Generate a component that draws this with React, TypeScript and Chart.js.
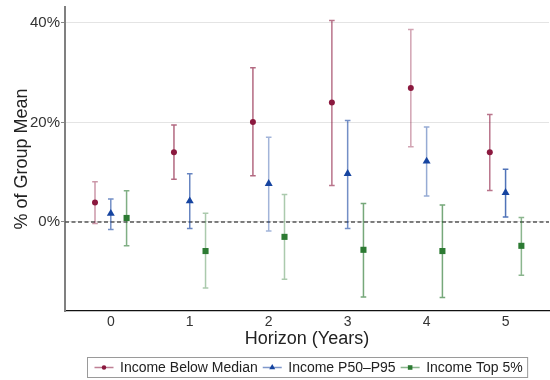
import React, { useEffect, useRef } from "react";
import { Chart, registerables } from "chart.js";

Chart.register(...registerables);

// ---------- data ----------
const horizons = [0, 1, 2, 3, 4, 5];
const seriesNames = ["Income Below Median", "Income P50\u2013P95", "Income Top 5%"];

const belowMedian = [3.9, 14.0, 20.1, 24.0, 26.9, 14.0];
const belowMedianLo = [-0.3, 8.6, 9.3, 7.3, 15.1, 6.3];
const belowMedianHi = [8.1, 19.5, 31.0, 40.5, 38.7, 21.6];

const p50p95 = [1.7, 4.2, 7.7, 9.7, 12.2, 5.9];
const p50p95Lo = [-1.5, -1.3, -1.8, -1.3, 5.2, 1.0];
const p50p95Hi = [4.6, 9.7, 17.0, 20.4, 19.1, 10.6];

const top5 = [0.8, -5.85, -3.0, -5.6, -5.85, -4.8];
const top5Lo = [-4.8, -13.3, -11.5, -15.1, -15.2, -10.7];
const top5Hi = [6.25, 1.75, 5.5, 3.7, 3.4, 0.9];

const yTickValues = [0, 20, 40];
const xTickValues = [0, 1, 2, 3, 4, 5];

// ---------- styles ----------
const FONT = "'Liberation Sans', Arial, Helvetica, sans-serif";
const dodge = [-0.2, 0, 0.2];
const markerRGB = [
  [139, 24, 62],
  [22, 68, 160],
  [44, 122, 50],
];
const markerStyles = ["circle", "triangle", "rect"];
const markerRadius = [3, 4.6, 4.3];
const barAlpha = [
  [0.45, 0.65, 0.65, 0.6, 0.4, 0.6],
  [0.6, 0.65, 0.4, 0.6, 0.45, 0.75],
  [0.6, 0.4, 0.4, 0.65, 0.65, 0.55],
];
const PLOT_RIGHT = 549;

const values = [belowMedian, p50p95, top5];
const lows = [belowMedianLo, p50p95Lo, top5Lo];
const highs = [belowMedianHi, p50p95Hi, top5Hi];

const rgba = (c: number[], a: number) => `rgba(${c[0]},${c[1]},${c[2]},${a})`;

function drawMarker(ctx: CanvasRenderingContext2D, style: string, x: number, y: number, r: number, color: string) {
  ctx.fillStyle = color;
  ctx.beginPath();
  if (style === "circle") {
    ctx.arc(x, y, r, 0, Math.PI * 2);
  } else if (style === "triangle") {
    const h = r * 1.5;
    const w = r * Math.sqrt(3);
    ctx.moveTo(x, y - r);
    ctx.lineTo(x + w / 2, y - r + h);
    ctx.lineTo(x - w / 2, y - r + h);
    ctx.closePath();
  } else {
    const s = r / Math.SQRT2;
    ctx.rect(x - s, y - s, 2 * s, 2 * s);
  }
  ctx.fill();
}

const areaFixPlugin = {
  id: "areaFix",
  afterLayout(chart: any) {
    const xs = chart.scales.x;
    chart.chartArea.right = PLOT_RIGHT;
    chart.chartArea.width = PLOT_RIGHT - chart.chartArea.left;
    xs.right = PLOT_RIGHT;
    xs.width = PLOT_RIGHT - xs.left;
    if (xs._margins) {
      xs._margins.right = 0;
    }
    xs.paddingRight = 0;
    xs.configure();
  },
};

const errorBarPlugin = {
  id: "errorBars",
  beforeDatasetsDraw(chart: any) {
    const { ctx, chartArea, scales } = chart;
    const xs = scales.x;
    const ys = scales.y;
    ctx.save();
    const y0 = ys.getPixelForValue(0);
    ctx.strokeStyle = "#555555";
    ctx.lineWidth = 1.5;
    ctx.setLineDash([4, 2.5]);
    ctx.beginPath();
    ctx.moveTo(chartArea.left, y0);
    ctx.lineTo(chartArea.right, y0);
    ctx.stroke();
    ctx.setLineDash([]);
    ctx.lineWidth = 1.5;
    values.forEach((_, si) => {
      horizons.forEach((h, i) => {
        const px = xs.getPixelForValue(h + dodge[si]);
        const pLo = ys.getPixelForValue(lows[si][i]);
        const pHi = ys.getPixelForValue(highs[si][i]);
        ctx.strokeStyle = rgba(markerRGB[si], barAlpha[si][i]);
        ctx.beginPath();
        ctx.moveTo(px, pLo);
        ctx.lineTo(px, pHi);
        ctx.moveTo(px - 2.8, pLo);
        ctx.lineTo(px + 2.8, pLo);
        ctx.moveTo(px - 2.8, pHi);
        ctx.lineTo(px + 2.8, pHi);
        ctx.stroke();
      });
    });
    ctx.restore();
  },
};

const legendPlugin = {
  id: "customLegend",
  afterDraw(chart: any) {
    const { ctx, chartArea } = chart;
    ctx.save();
    ctx.font = `14px ${FONT}`;
    const sampleW = 19;
    const gapAfterSample = 6.5;
    const gapBetween = 5;
    const padL = 7;
    const padR = 5;
    const widths = seriesNames.map((n) => ctx.measureText(n).width);
    const total =
      padL + padR + widths.reduce((a, w) => a + sampleW + gapAfterSample + w, 0) + gapBetween * (seriesNames.length - 1);
    const cx = (chartArea.left + chartArea.right) / 2;
    const left = Math.round(cx - total / 2) + 0.5;
    const top = 357.5;
    const h = 20;
    ctx.strokeStyle = "#9a9a9a";
    ctx.lineWidth = 1;
    ctx.strokeRect(left, top, total, h);
    let x = left + padL;
    const cy = top + h / 2;
    seriesNames.forEach((n, si) => {
      ctx.strokeStyle = rgba(markerRGB[si], 0.55);
      ctx.lineWidth = 1.5;
      ctx.beginPath();
      ctx.moveTo(x, cy);
      ctx.lineTo(x + sampleW, cy);
      ctx.stroke();
      drawMarker(ctx, markerStyles[si], x + sampleW / 2, cy, markerRadius[si] * 0.75, rgba(markerRGB[si], 1));
      x += sampleW + gapAfterSample;
      ctx.fillStyle = "#222222";
      ctx.textBaseline = "middle";
      ctx.textAlign = "left";
      ctx.fillText(n, x, cy + 0.5);
      x += widths[si] + gapBetween;
    });
    ctx.restore();
  },
};

export default function App() {
  const ref = useRef<HTMLCanvasElement | null>(null);

  useEffect(() => {
    document.body.style.margin = "0";
    if (!ref.current) return;
    const datasets = values.map((vals, si) => ({
      label: seriesNames[si],
      data: horizons.map((h, i) => ({ x: h + dodge[si], y: vals[i] })),
      pointStyle: markerStyles[si],
      pointRadius: markerRadius[si],
      pointBackgroundColor: rgba(markerRGB[si], 1),
      pointBorderWidth: 0,
      pointBorderColor: rgba(markerRGB[si], 1),
      showLine: false,
    }));

    const chart = new Chart(ref.current, {
      type: "scatter",
      data: { datasets },
      plugins: [areaFixPlugin, errorBarPlugin, legendPlugin],
      options: {
        responsive: false,
        animation: false,
        events: [],
        layout: { padding: { top: 7, right: 1, left: 0, bottom: 0 } },
        plugins: {
          legend: { display: false },
          tooltip: { enabled: false },
          title: { display: false },
        },
        scales: {
          x: {
            type: "linear",
            min: -0.58,
            max: 5.55,
            afterFit: (scale: any) => {
              scale.height = 69;
              scale.paddingLeft = 0;
              scale.paddingRight = 0;
            },
            afterBuildTicks: (scale: any) => {
              scale.ticks = xTickValues.map((v) => ({ value: v }));
            },
            grid: { color: "transparent", drawTicks: false, tickLength: 0 },
            border: { display: true, color: "#111111", width: 1.2 },
            ticks: {
              padding: 3,
              color: "#333333",
              font: { family: FONT, size: 14 },
              callback: (v: any) => String(v),
            },
            title: {
              display: true,
              text: "Horizon (Years)",
              color: "#222222",
              font: { family: FONT, size: 18 },
              padding: { top: 0, bottom: 30 },
            },
          },
          y: {
            min: -17.9,
            max: 43.2,
            afterFit: (scale: any) => {
              scale.width = 65;
              scale.paddingTop = 0;
              scale.paddingBottom = 0;
            },
            afterBuildTicks: (scale: any) => {
              scale.ticks = yTickValues.map((v) => ({ value: v }));
            },
            grid: { color: "#e4e4e4", lineWidth: 1, tickLength: 4, tickColor: "#888888", tickWidth: 1 },
            border: { display: true, color: "#808080", width: 2 },
            ticks: {
              padding: 1,
              color: "#333333",
              font: { family: FONT, size: 15 },
              callback: (v: any) => `${v}%`,
            },
            title: {
              display: true,
              text: "% of Group Mean",
              color: "#222222",
              font: { family: FONT, size: 18 },
              padding: { top: 11, bottom: 0 },
            },
          },
        },
      } as any,
    });
    return () => chart.destroy();
  }, []);

  return (
    <div style={{ position: "fixed", left: 0, top: 0, width: 550, height: 380, background: "#ffffff" }}>
      <canvas ref={ref} width={550} height={380} style={{ width: 550, height: 380, display: "block" }} />
    </div>
  );
}
